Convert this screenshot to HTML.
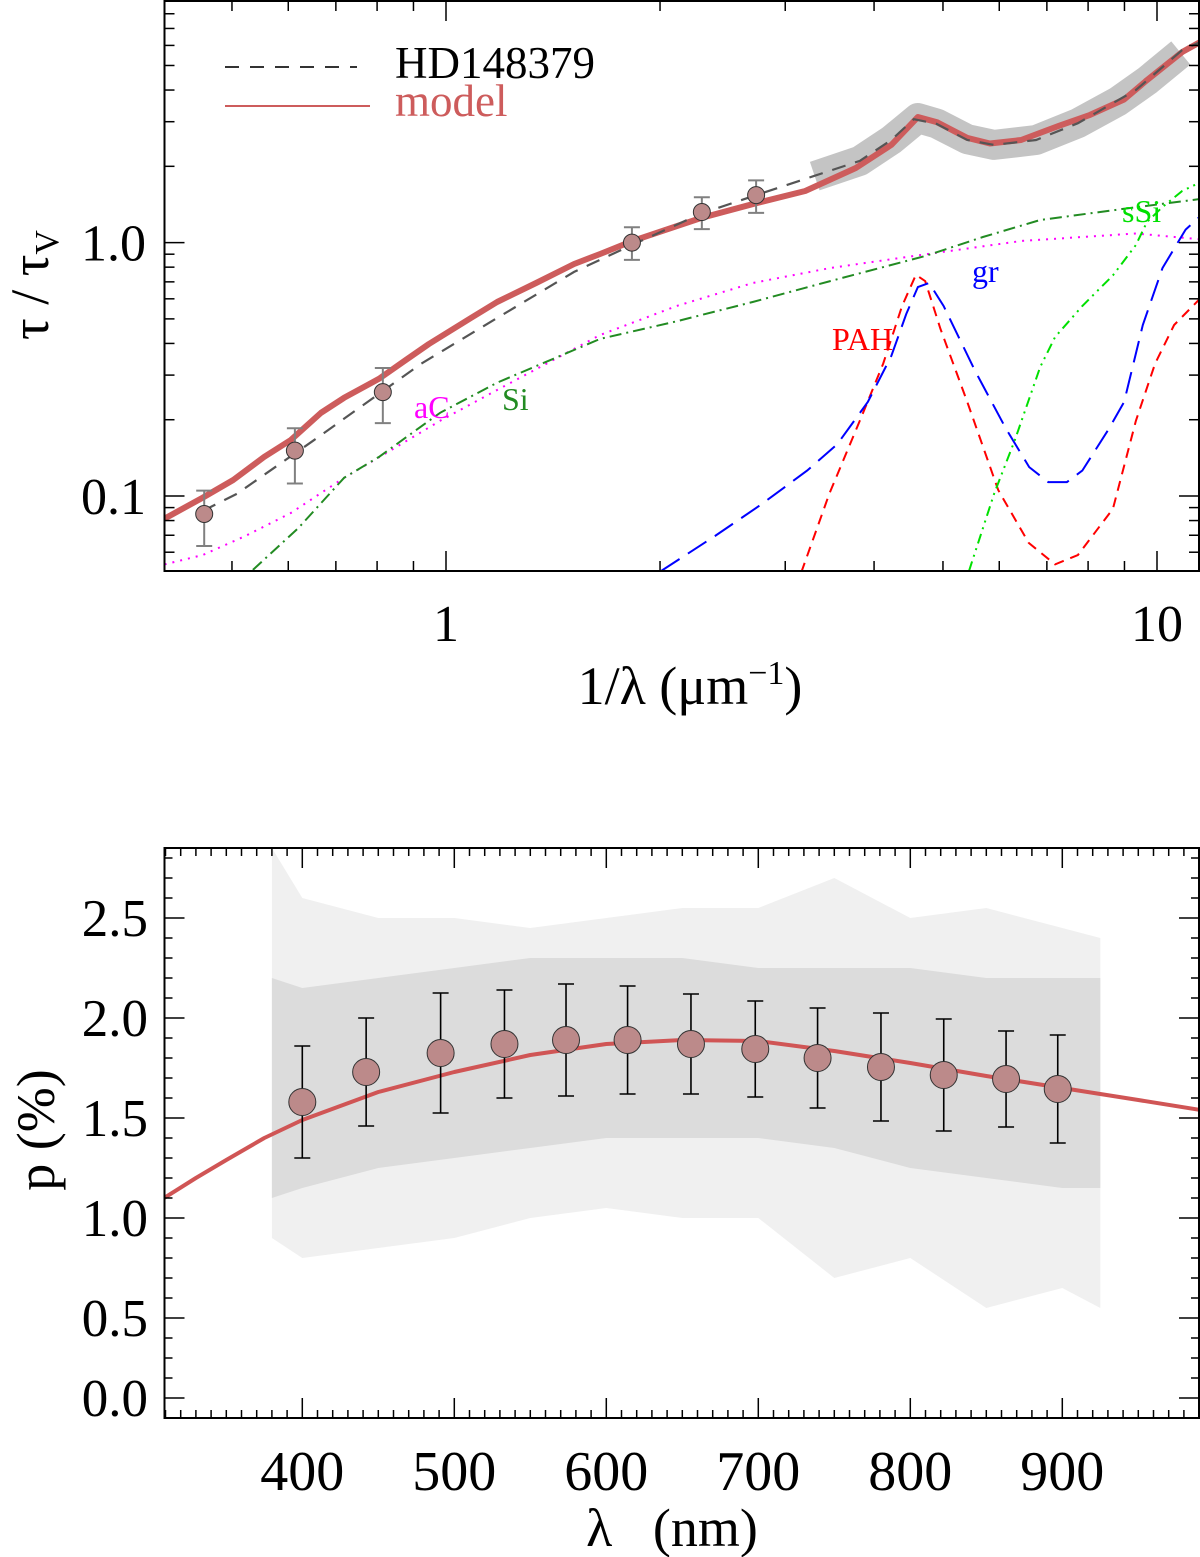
<!DOCTYPE html>
<html><head><meta charset="utf-8"><style>
html,body{margin:0;padding:0;background:#fff}
svg{display:block;font-family:"Liberation Serif","DejaVu Serif",serif}
</style></head><body>
<svg id="fig" width="1200" height="1557" viewBox="0 0 1200 1557" xmlns="http://www.w3.org/2000/svg">
<defs>
<clipPath id="clipTop"><rect x="164.5" y="1" width="1034.5" height="570"/></clipPath>
<clipPath id="clipBot"><rect x="164.5" y="848" width="1034.5" height="570"/></clipPath>
</defs>
<g id="topPanel"></g>
<g id="botPanel"></g>
</svg>
<script>
// ---------- TOP PANEL DATA ----------
const obsX = [0.457, 0.613, 0.815, 1.826, 2.29, 2.73];
const obsY = [0.0849, 0.151, 0.257, 1.0, 1.32, 1.54];
const obsLo = [0.0635, 0.112, 0.194, 0.855, 1.13, 1.31];
const obsHi = [0.105, 0.185, 0.32, 1.15, 1.51, 1.76];
const modelX = [0.402,0.455,0.502,0.555,0.605,0.667,0.719,0.805,0.878,0.946,1.084,1.18,1.339,1.514,1.647,1.829,2.284,2.73,3.20,3.77,4.23,4.61,4.90,5.41,5.82,6.44,7.28,8.05,8.99,9.68,10.85,11.5];
const modelY = [0.0814,0.0986,0.1157,0.1426,0.1664,0.213,0.244,0.290,0.344,0.398,0.504,0.583,0.693,0.823,0.902,1.015,1.25,1.43,1.598,1.97,2.43,3.13,2.99,2.59,2.46,2.54,2.89,3.19,3.67,4.38,5.65,6.19];
const hdX = [0.455,0.508,0.652,0.805,0.922,1.18,1.514,1.826,2.284,2.73,3.29,3.82,4.23,4.55,4.90,5.41,5.90,6.76,7.74,9.34,10.85,11.5];
const hdY = [0.0873,0.102,0.166,0.253,0.332,0.504,0.766,0.978,1.30,1.54,1.83,2.10,2.54,3.07,2.94,2.54,2.43,2.54,2.96,4.00,5.75,6.19];
const bandX = [3.30,3.82,4.23,4.61,4.90,5.41,5.90,6.76,7.74,8.8,9.68,10.8];
const bandY = [1.83,2.10,2.54,3.10,2.95,2.56,2.43,2.54,2.96,3.6,4.35,5.6];
const aCX = [0.402,0.455,0.522,0.605,0.719,0.815,0.981,1.18,1.647,2.11,2.70,3.47,4.72,6.44,9.34,11.5];
const aCY = [0.0537,0.0585,0.0695,0.0857,0.118,0.145,0.198,0.262,0.432,0.562,0.693,0.794,0.898,1.015,1.086,1.03];
const siX = [0.535,0.620,0.719,0.805,0.981,1.18,1.647,2.11,2.70,3.47,4.72,5.69,6.85,8.99,11.5];
const siY = [0.0511,0.0748,0.118,0.1426,0.213,0.280,0.417,0.489,0.583,0.705,0.885,1.052,1.228,1.36,1.486];
const pahX = [3.16,3.46,3.82,4.12,4.38,4.58,4.72,4.96,5.41,5.98,6.60,7.19,7.74,8.67,9.34,9.94,10.57,11.5];
const pahY = [0.05,0.102,0.198,0.333,0.562,0.746,0.705,0.456,0.235,0.1056,0.0653,0.0537,0.0585,0.0889,0.198,0.333,0.473,0.602];
const grX = [2.007,2.39,2.77,3.22,3.55,3.92,4.23,4.44,4.61,4.78,5.01,5.55,6.13,6.61,7.03,7.47,7.85,8.56,8.99,9.55,10.18,10.97,11.5];
const grY = [0.0506,0.0695,0.0922,0.126,0.160,0.235,0.357,0.523,0.668,0.693,0.562,0.311,0.1845,0.130,0.1135,0.1135,0.126,0.1845,0.235,0.473,0.794,1.125,1.27];
const ssiX = [5.44,5.90,6.31,6.85,7.19,7.85,8.67,9.34,9.68,10.18,10.85,11.5];
const ssiY = [0.0506,0.102,0.166,0.323,0.424,0.562,0.742,0.978,1.206,1.382,1.598,1.73];
const xTickTop = [1, 10];
const xTickTopLabels = ["1", "10"];
const yTickTop = [0.1, 1.0];
const yTickTopLabels = ["0.1", "1.0"];

// ---------- BOTTOM PANEL DATA ----------
const polLam = [400,442,491,533,573.5,614,655.7,698,739,780.7,822,863,897];
const polP = [1.58,1.73,1.825,1.87,1.89,1.89,1.87,1.845,1.80,1.755,1.715,1.695,1.645];
const polErr = [0.28,0.27,0.30,0.27,0.28,0.27,0.25,0.24,0.25,0.27,0.28,0.24,0.27];
const serkLam = [309,330,350,375,400,450,500,550,600,650,700,750,800,850,900,950,991];
const serkP = [1.10,1.20,1.29,1.40,1.49,1.63,1.73,1.815,1.87,1.89,1.885,1.835,1.775,1.71,1.65,1.59,1.54];
const noiseLam = [380,400,450,500,550,600,650,700,750,800,850,900,925];
const noiseCoreHi = [2.2,2.15,2.2,2.25,2.3,2.3,2.3,2.25,2.25,2.25,2.2,2.2,2.2];
const noiseCoreLo = [1.1,1.15,1.25,1.3,1.35,1.4,1.4,1.4,1.35,1.25,1.2,1.15,1.15];
const noiseOutHi = [2.85,2.6,2.5,2.5,2.45,2.5,2.55,2.55,2.7,2.5,2.55,2.45,2.4];
const noiseOutLo = [0.9,0.8,0.85,0.9,1.0,1.05,1.0,1.0,0.7,0.8,0.55,0.65,0.55];
const xTickBot = [400,500,600,700,800,900];
const xTickBotLabels = ["400","500","600","700","800","900"];
const yTickBot = [2.5,2.0,1.5,1.0,0.5,0.1];
const yTickBotLabels = ["2.5","2.0","1.5","1.0","0.5","0.0"];

const NS = "http://www.w3.org/2000/svg";
function mk(parent, tag, attrs, text) {
  const e = document.createElementNS(NS, tag);
  for (const k in attrs) e.setAttribute(k, attrs[k]);
  if (text !== undefined) e.textContent = text;
  parent.appendChild(e);
  return e;
}
const X = v => 446 + 711 * Math.log10(v);
const Y = v => 242.6 - 253.4 * Math.log10(v);
const BX = l => 302.3 + (l - 400) * 1.52;
const BY = p => 1418 - 200 * p;

const topG = document.getElementById('topPanel');
const botG = document.getElementById('botPanel');

function pathD(xs, ys, fx, fy) {
  return xs.map((v, i) => (i ? 'L' : 'M') + fx(v).toFixed(1) + ',' + fy(ys[i]).toFixed(1)).join(' ');
}

// ---- TOP PANEL ----
const tp = mk(topG, 'g', {'clip-path': 'url(#clipTop)'});



const band = mk(tp, 'path', {d: pathD(bandX, bandY, X, Y), fill: 'none', stroke: '#c4c4c4', 'stroke-width': 30, 'stroke-linejoin': 'round', 'stroke-linecap': 'butt'});



const comps = [
  {xs: aCX, ys: aCY, c: '#ff00ff', d: '2,6', w: 2, n: 'ac-component-curve'},
  {xs: siX, ys: siY, c: '#228b22', d: '12,5,2,5', w: 2, n: 'si-component-curve'},
  {xs: pahX, ys: pahY, c: '#ff0000', d: '10,7', w: 2, n: 'pah-component-curve'},
  {xs: grX, ys: grY, c: '#0000ff', d: '22,10', w: 2, n: 'gr-component-curve'},
  {xs: ssiX, ys: ssiY, c: '#00e000', d: '10,5,2,5,2,5', w: 2, n: 'ssi-component-curve'}
];
comps.forEach(o => {
  const p = mk(tp, 'path', {d: pathD(o.xs, o.ys, X, Y), fill: 'none', stroke: o.c, 'stroke-width': o.w, 'stroke-dasharray': o.d});
  
  
});

const modelPath = mk(tp, 'path', {d: pathD(modelX, modelY, X, Y), fill: 'none', stroke: '#cd5c5c', 'stroke-width': 6, 'stroke-linejoin': 'round'});


const hdPath = mk(tp, 'path', {d: pathD(hdX, hdY, X, Y), fill: 'none', stroke: '#555', 'stroke-width': 2.2, 'stroke-dasharray': '14,10'});



obsX.forEach((v, i) => {
  const g = mk(tp, 'g', {});
  
  
  const x = X(v);
  mk(g, 'line', {x1: x, x2: x, y1: Y(obsHi[i]), y2: Y(obsLo[i]), stroke: '#808080', 'stroke-width': 2});
  mk(g, 'line', {x1: x - 8, x2: x + 8, y1: Y(obsHi[i]), y2: Y(obsHi[i]), stroke: '#808080', 'stroke-width': 2});
  mk(g, 'line', {x1: x - 8, x2: x + 8, y1: Y(obsLo[i]), y2: Y(obsLo[i]), stroke: '#808080', 'stroke-width': 2});
  mk(g, 'circle', {cx: x, cy: Y(obsY[i]), r: 8.5, fill: '#bc8a8a', stroke: '#333', 'stroke-width': 1});
});

const labs = [['aC', 414, 418, '#ff00ff', 'ac-label'], ['Si', 502, 410, '#228b22', 'si-label'], ['PAH', 832, 350, '#ff0000', 'pah-label'], ['gr', 972, 282, '#0000ff', 'gr-label'], ['sSi', 1122, 222, '#00e000', 'ssi-label']];
labs.forEach(l => {
  const t = mk(topG, 'text', {x: l[1], y: l[2], fill: l[3], 'font-size': 32}, l[0]);
  
  
});

const fr = mk(topG, 'rect', {x: 164.5, y: 1, width: 1034.5, height: 570, fill: 'none', stroke: '#000', 'stroke-width': 2});


const tt = mk(topG, 'g', {stroke: '#000', 'stroke-width': 1.5});


[0.1, 1, 10].forEach(dec => {
  for (let m = 1; m < 10; m++) {
    const x = X(m * dec);
    if (x > 165 && x < 1199) {
      const L = m === 1 ? 20 : 10;
      mk(tt, 'line', {x1: x, x2: x, y1: 571, y2: 571 - L});
      mk(tt, 'line', {x1: x, x2: x, y1: 1, y2: 1 + L});
    }
  }
});
[0.01, 0.1, 1].forEach(dec => {
  for (let m = 1; m < 10; m++) {
    const y = Y(m * dec);
    if (y > 2 && y < 570) {
      const L = m === 1 ? 20 : 10;
      mk(tt, 'line', {x1: 164.5, x2: 164.5 + L, y1: y, y2: y});
      mk(tt, 'line', {x1: 1199, x2: 1199 - L, y1: y, y2: y});
    }
  }
});
xTickTop.forEach((v, i) => {
  const t = mk(topG, 'text', {x: X(v), y: 641, 'text-anchor': 'middle', 'font-size': 52}, xTickTopLabels[i]);
  
  
});
yTickTop.forEach((v, i) => {
  const t = mk(topG, 'text', {x: 146, y: Y(v) + 18, 'text-anchor': 'end', 'font-size': 52}, yTickTopLabels[i]);
  
  
});
const xt = mk(topG, 'text', {x: 690, y: 704, 'text-anchor': 'middle', 'font-size': 54});


mk(xt, 'tspan', {}, '1/λ (μm');
mk(xt, 'tspan', {dy: -20, 'font-size': 34}, '−1');
mk(xt, 'tspan', {dy: 20}, ')');
const yt = mk(topG, 'text', {transform: 'translate(48,285) rotate(-90)', 'text-anchor': 'middle', 'font-size': 54});


mk(yt, 'tspan', {}, 'τ / τ');
mk(yt, 'tspan', {dy: 10, 'font-size': 34}, 'V');

const lg = mk(topG, 'g', {});


mk(lg, 'line', {x1: 225, x2: 357, y1: 67, y2: 67, stroke: '#333', 'stroke-width': 2, 'stroke-dasharray': '14,11'});
const l1 = mk(lg, 'text', {x: 395, y: 78, 'font-size': 45, fill: '#000'}, 'HD148379');


mk(lg, 'line', {x1: 225, x2: 370, y1: 106, y2: 106, stroke: '#cd5c5c', 'stroke-width': 2});
const l2 = mk(lg, 'text', {x: 395, y: 116, 'font-size': 45, fill: '#cd5c5c'}, 'model');



// ---- BOTTOM PANEL ----
const bp = mk(botG, 'g', {'clip-path': 'url(#clipBot)'});


function bandD(xs, hi, lo) {
  let d = xs.map((v, i) => (i ? 'L' : 'M') + BX(v).toFixed(1) + ',' + BY(hi[i]).toFixed(1)).join(' ');
  for (let i = xs.length - 1; i >= 0; i--) d += ' L' + BX(xs[i]).toFixed(1) + ',' + BY(lo[i]).toFixed(1);
  return d + ' Z';
}
const no = mk(bp, 'path', {d: bandD(noiseLam, noiseOutHi, noiseOutLo), fill: '#f0f0f0'});


const nc = mk(bp, 'path', {d: bandD(noiseLam, noiseCoreHi, noiseCoreLo), fill: '#dcdcdc'});


const sp = mk(bp, 'path', {d: pathD(serkLam, serkP, BX, BY), fill: 'none', stroke: '#d05555', 'stroke-width': 4, 'stroke-linejoin': 'round'});


polLam.forEach((v, i) => {
  const g = mk(bp, 'g', {});
  
  
  const x = BX(v), hi = BY(polP[i] + polErr[i]), lo = BY(polP[i] - polErr[i]);
  mk(g, 'line', {x1: x, x2: x, y1: hi, y2: lo, stroke: '#000', 'stroke-width': 1.6});
  mk(g, 'line', {x1: x - 8, x2: x + 8, y1: hi, y2: hi, stroke: '#000', 'stroke-width': 1.6});
  mk(g, 'line', {x1: x - 8, x2: x + 8, y1: lo, y2: lo, stroke: '#000', 'stroke-width': 1.6});
  mk(g, 'circle', {cx: x, cy: BY(polP[i]), r: 13.5, fill: '#bc8a8a', stroke: '#333', 'stroke-width': 1});
});
const fr2 = mk(botG, 'rect', {x: 164.5, y: 848, width: 1034.5, height: 570, fill: 'none', stroke: '#000', 'stroke-width': 2});


const bt = mk(botG, 'g', {stroke: '#000', 'stroke-width': 1.5});


for (let l = 310; l <= 990; l += 10) {
  const x = BX(l);
  const L = l % 100 === 0 ? 20 : 8;
  mk(bt, 'line', {x1: x, x2: x, y1: 1418, y2: 1418 - L});
  mk(bt, 'line', {x1: x, x2: x, y1: 848, y2: 848 + L});
}
for (let k = 1; k <= 28; k++) {
  const y = BY(k / 10);
  const L = (k % 5 === 0 || k === 1) ? 20 : 8;
  mk(bt, 'line', {x1: 164.5, x2: 164.5 + L, y1: y, y2: y});
  mk(bt, 'line', {x1: 1199, x2: 1199 - L, y1: y, y2: y});
}
xTickBot.forEach((v, i) => {
  const t = mk(botG, 'text', {x: BX(v), y: 1490, 'text-anchor': 'middle', 'font-size': 56}, xTickBotLabels[i]);
  
  
});
yTickBot.forEach((v, i) => {
  const t = mk(botG, 'text', {x: 148, y: BY(v) + 18, 'text-anchor': 'end', 'font-size': 53}, yTickBotLabels[i]);
  
  
});
const bxt = mk(botG, 'text', {x: 672, y: 1546, 'text-anchor': 'middle', 'font-size': 54, style: 'white-space:pre'}, 'λ   (nm)');


const byt = mk(botG, 'text', {transform: 'translate(54,1130) rotate(-90)', 'text-anchor': 'middle', 'font-size': 54}, 'p (%)');


</script>
</body></html>
